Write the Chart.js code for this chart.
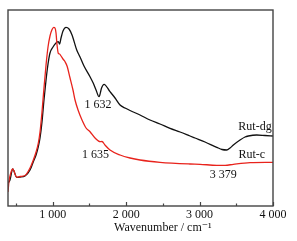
<!DOCTYPE html>
<html>
<head>
<meta charset="utf-8">
<script src="https://cdn.jsdelivr.net/npm/chart.js@4"></script>
<style>
  html, body { margin: 0; padding: 0; background: #fff; }
  #wrap { width: 297px; height: 241px; }
</style>
</head>
<body>
<div id="wrap"><canvas id="ftir"></canvas></div>
<script>
// FTIR spectra, arbitrary intensity units
const rutDgWave = [391, 418, 455, 510, 555, 623, 691, 736, 773, 804, 827, 854, 881, 909, 936, 963, 1004, 1045, 1076, 1093, 1113, 1140, 1181, 1222, 1263, 1327, 1372, 1426, 1508, 1553, 1590, 1631, 1665, 1699, 1780, 1849, 1917, 1985, 2053, 2189, 2325, 2461, 2598, 2734, 2870, 2938, 3074, 3234, 3306, 3370, 3415, 3460, 3551, 3619, 3664, 3778, 3891, 4000];
const rutDgVals = [23, 26, 37, 28.7, 29, 30, 36, 44.3, 51, 59.3, 68, 84, 106, 126, 142, 153, 159, 163, 164.3, 162, 168, 175, 178.7, 177, 171, 156, 149, 140, 129.3, 122.7, 116, 109.3, 118, 121.7, 114.3, 108, 101, 98, 95.5, 91, 86, 82, 77.7, 74, 70, 68, 64, 58.7, 56.5, 56, 58, 61, 66, 69, 70, 71, 70.5, 70];

const rutCWave = [391, 405, 425, 455, 510, 555, 623, 691, 736, 773, 804, 827, 854, 881, 909, 936, 963, 991, 1014, 1031, 1045, 1059, 1076, 1093, 1113, 1140, 1168, 1195, 1236, 1276, 1304, 1345, 1399, 1454, 1508, 1576, 1644, 1671, 1712, 1780, 1917, 2053, 2189, 2461, 2870, 3006, 3234, 3347, 3460, 3687, 4000];
const rutCVals = [14, 25, 32, 37, 28.7, 29.5, 30.5, 38, 46, 54, 63, 74, 94, 118, 141, 159, 170, 176.5, 178.7, 178, 173, 161, 152.7, 152, 150, 147, 144.3, 140, 128, 116, 106, 96, 86, 78, 74.3, 68, 64.3, 64.5, 61, 56, 51, 48, 46, 43.7, 42, 41.7, 40.7, 40.7, 41.7, 43.3, 43.7];

const majorTicks = [1000, 2000, 3000, 4000];
const minorTicks = [500, 1500, 2500, 3500];

const peakLabels = [
    { text: '1 632', x: 1617, y: 101 },
    { text: '1 635', x: 1583, y: 51 },
    { text: '3 379', x: 3324, y: 31 },
    { text: 'Rut-dg', x: 3755, y: 79 },
    { text: 'Rut-c', x: 3710, y: 51 }
];
const axisTitle = 'Wavenumber / cm\u207B\u00B9';

const FONT = '"Liberation Serif", "DejaVu Serif", serif';
const toXY = (xs, ys) => xs.map((x, i) => ({ x, y: ys[i] }));

const framePlugin = {
    id: 'frame',
    afterDraw(chart) {
        const { ctx, chartArea: a, scales: { x, y } } = chart;
        ctx.save();
        ctx.strokeStyle = '#444';
        ctx.lineWidth = 1.4;
        ctx.strokeRect(a.left, a.top, a.right - a.left, a.bottom - a.top);
        ctx.lineWidth = 1.2;
        ctx.beginPath();
        majorTicks.forEach(v => { const px = Math.round(x.getPixelForValue(v)) + 0.5; ctx.moveTo(px, a.bottom); ctx.lineTo(px, a.bottom - 4); });
        minorTicks.forEach(v => { const px = Math.round(x.getPixelForValue(v)) + 0.5; ctx.moveTo(px, a.bottom); ctx.lineTo(px, a.bottom - 2.5); });
        ctx.stroke();

        ctx.fillStyle = '#111';
        ctx.font = '12px ' + FONT;
        ctx.textAlign = 'center';
        ctx.textBaseline = 'middle';
        peakLabels.forEach(l => ctx.fillText(l.text, x.getPixelForValue(l.x), y.getPixelForValue(l.y)));
        ctx.fillText(axisTitle, x.getPixelForValue(2500), 228);
        ctx.restore();
    }
};

new Chart(document.getElementById('ftir'), {
    type: 'line',
    data: {
        datasets: [
            { label: 'Rut-c', data: toXY(rutCWave, rutCVals), borderColor: '#e8231c', borderWidth: 1.3 },
            { label: 'Rut-dg', data: toXY(rutDgWave, rutDgVals), borderColor: '#111', borderWidth: 1.3 }
        ]
    },
    options: {
        responsive: true,
        maintainAspectRatio: false,
        animation: false,
        events: [],
        layout: { padding: { left: 8, top: 10, right: 24, bottom: 0 } },
        elements: { point: { radius: 0 }, line: { cubicInterpolationMode: 'monotone', fill: false } },
        plugins: { legend: { display: false }, tooltip: { enabled: false } },
        scales: {
            x: {
                type: 'linear', min: 391, max: 4000,
                grid: { display: false, drawTicks: false }, border: { display: false },
                afterBuildTicks: s => { s.ticks = majorTicks.map(v => ({ value: v })); },
                afterFit: s => { s.height = 35; },
                ticks: {
                    padding: 2, color: '#111', maxRotation: 0, autoSkip: false,
                    font: { family: FONT, size: 12 },
                    callback: v => String(v).replace(/\B(?=(\d{3})+$)/, ' ')
                }
            },
            y: { display: false, min: 0, max: 196 }
        }
    },
    plugins: [framePlugin]
});
</script>
</body>
</html>
